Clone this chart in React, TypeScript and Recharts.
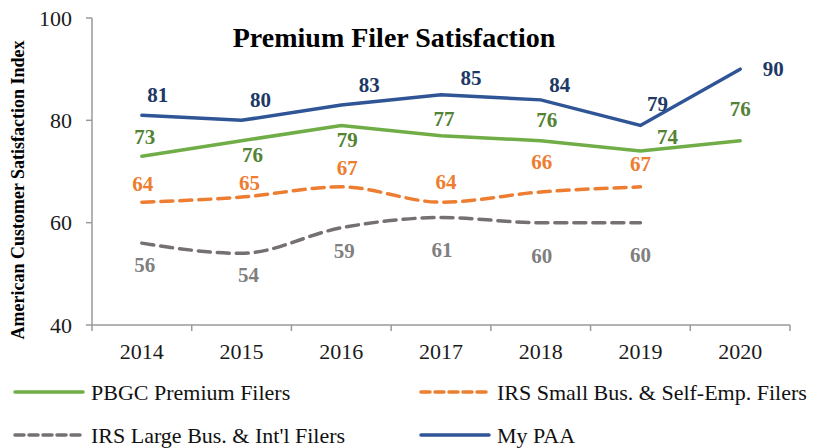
import React from 'react';
import { LineChart, Line, XAxis, YAxis, LabelList } from 'recharts';

// ---------- data ----------
const years = ['2014', '2015', '2016', '2017', '2018', '2019', '2020'];
const pbgc = [73, 76, 79, 77, 76, 74, 76];
const irsSmall = [64, 65, 67, 64, 66, 67, null];
const irsLarge = [56, 54, 59, 61, 60, 60, null];
const myPaa = [81, 80, 83, 85, 84, 79, 90];
const yTicks = [40, 60, 80, 100];

// label placement (dx, dy from point), styling only
const pbgcLabelOffsets = [[3, -19], [11, 14], [6, 15], [3, -17], [6, -21], [27, -14], [0, -32]];
const irsSmallLabelOffsets = [[1, -18], [8, -14], [6, -19], [5, -20], [1, -30], [0, -23], [0, 0]];
const irsLargeLabelOffsets = [[3, 22], [7, 22], [3, 23], [1, 32], [1, 33], [0, 32], [0, 0]];
const myPaaLabelOffsets = [[16, -20], [19, -20], [28, -20], [30, -17], [19, -15], [17, -21], [33, 0]];

const data = years.map((year, i) => ({
  year,
  pbgc: pbgc[i],
  irsSmall: irsSmall[i],
  irsLarge: irsLarge[i],
  myPaa: myPaa[i],
}));

// ---------- layout ----------
const W = 827;
const H = 448;
const X_AXIS_H = 30;
const M = { top: 18, right: 37, bottom: 123 - X_AXIS_H, left: 20 };
const Y_AXIS_W = 72;
const PLOT_W = W - M.left - Y_AXIS_W - M.right;
const HALF_STEP = PLOT_W / years.length / 2;
const FONT = '"Liberation Serif", "Times New Roman", serif';
const AXIS_COLOR = '#9a9a9a';

const series = [
  { key: 'pbgc', name: 'PBGC Premium Filers', color: '#70AD47', labelColor: '#548235', dash: undefined, type: 'linear', offsets: pbgcLabelOffsets },
  { key: 'irsSmall', name: 'IRS Small Bus. & Self-Emp. Filers', color: '#ED7D31', labelColor: '#ED7D31', dash: '12 7', type: 'monotone', offsets: irsSmallLabelOffsets },
  { key: 'irsLarge', name: "IRS Large Bus. & Int'l Filers", color: '#767171', labelColor: '#7F7F7F', dash: '12 7', type: 'monotone', offsets: irsLargeLabelOffsets },
  { key: 'myPaa', name: 'My PAA', color: '#2F5597', labelColor: '#203864', dash: undefined, type: 'linear', offsets: myPaaLabelOffsets },
];

const makeLabel = (offsets: number[][], color: string) => (props: any) => {
  const { x, y, value, index } = props;
  if (value === null || value === undefined) return null;
  const [dx, dy] = offsets[index] || [0, -20];
  return (
    <text
      x={x + dx}
      y={y + dy}
      textAnchor="middle"
      dominantBaseline="central"
      fill={color}
      fontSize={21}
      fontWeight="bold"
      fontFamily={FONT}
    >
      {value}
    </text>
  );
};

const XTick = (props: any) => {
  const { x, y, payload, index } = props;
  const last = index === years.length - 1;
  return (
    <g>
      <line x1={x - HALF_STEP} x2={x - HALF_STEP} y1={y} y2={y + 6} stroke={AXIS_COLOR} strokeWidth={1.5} />
      {last && <line x1={x + HALF_STEP} x2={x + HALF_STEP} y1={y} y2={y + 6} stroke={AXIS_COLOR} strokeWidth={1.5} />}
      <text x={x} y={y + 34} textAnchor="middle" fill="#1a1a1a" fontSize={22} fontFamily={FONT}>
        {payload.value}
      </text>
    </g>
  );
};

// legend layout
const legendRows = [
  [series[0], series[1]],
  [series[2], series[3]],
];
const legendColX = [15, 421];
const legendRowY = [392, 435];

export default function App() {
  return (
    <div style={{ position: 'absolute', left: 0, top: 0, width: W, height: H, background: '#fff' }}>
      <LineChart width={W} height={H} data={data} margin={M}>
        <XAxis
          dataKey="year"
          height={X_AXIS_H}
          padding={{ left: HALF_STEP, right: HALF_STEP }}
          axisLine={{ stroke: AXIS_COLOR, strokeWidth: 1.5 }}
          tickLine={false}
          tickSize={0}
          tickMargin={0}
          tick={<XTick />}
          interval={0}
        />
        <YAxis
          width={Y_AXIS_W}
          domain={[40, 100]}
          ticks={yTicks}
          interval={0}
          axisLine={{ stroke: AXIS_COLOR, strokeWidth: 1.5 }}
          tickLine={{ stroke: AXIS_COLOR, strokeWidth: 1.5 }}
          tickSize={6}
          tickMargin={14}
          tick={{ fill: '#1a1a1a', fontSize: 22, fontFamily: FONT }}
        />
        {series.map((s) => (
          <Line
            key={s.key}
            dataKey={s.key}
            name={s.name}
            type={s.type as any}
            stroke={s.color}
            strokeWidth={3.5}
            strokeDasharray={s.dash}
            strokeLinecap="round"
            dot={false}
            activeDot={false}
            connectNulls={false}
            isAnimationActive={false}
          >
            <LabelList dataKey={s.key} content={makeLabel(s.offsets, s.labelColor)} />
          </Line>
        ))}
      </LineChart>
      <svg width={W} height={H} style={{ position: 'absolute', left: 0, top: 0, pointerEvents: 'none' }}>
        <text x={394} y={47} textAnchor="middle" fontSize={28} fontWeight="bold" fontFamily={FONT} fill="#000">
          Premium Filer Satisfaction
        </text>
        <text
          x={0}
          y={0}
          transform="translate(24,190) rotate(-90)"
          textAnchor="middle"
          fontSize={18}
          fontWeight="bold"
          fontFamily={FONT}
          fill="#000"
        >
          American Customer Satisfaction Index
        </text>
        {legendRows.map((row, r) =>
          row.map((s, c) => (
            <g key={s.key}>
              <line
                x1={legendColX[c]}
                x2={legendColX[c] + 68}
                y1={legendRowY[r]}
                y2={legendRowY[r]}
                stroke={s.color}
                strokeWidth={3.5}
                strokeDasharray={s.dash ? '9 5' : undefined}
                strokeLinecap="round"
              />
              <text
                x={legendColX[c] + 76}
                y={legendRowY[r]}
                dominantBaseline="central"
                fontSize={22}
                fontFamily={FONT}
                fill="#111"
              >
                {s.name}
              </text>
            </g>
          ))
        )}
      </svg>
    </div>
  );
}
